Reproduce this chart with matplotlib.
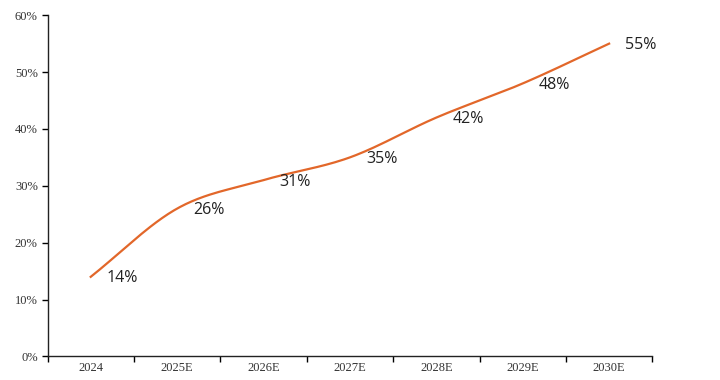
import matplotlib.pyplot as plt
import numpy as np

years = ['2024', '2025E', '2026E', '2027E', '2028E', '2029E', '2030E']
share = [14, 26, 31, 35, 42, 48, 55]
point_labels = ['14%', '26%', '31%', '35%', '42%', '48%', '55%']


def smooth_curve(xs, ys, steps=30):
    # Catmull-Rom spline through the points, like Excel's smoothed line
    xs = np.asarray(xs, float)
    ys = np.asarray(ys, float)
    px = np.concatenate([[2 * xs[0] - xs[1]], xs, [2 * xs[-1] - xs[-2]]])
    py = np.concatenate([[2 * ys[0] - ys[1]], ys, [2 * ys[-1] - ys[-2]]])
    out_x, out_y = [], []
    t = np.linspace(0, 1, steps)
    for i in range(1, len(px) - 2):
        for p, out in ((px, out_x), (py, out_y)):
            p0, p1, p2, p3 = p[i - 1], p[i], p[i + 1], p[i + 2]
            out.extend(0.5 * (2 * p1 + (-p0 + p2) * t
                              + (2 * p0 - 5 * p1 + 4 * p2 - p3) * t ** 2
                              + (-p0 + 3 * p1 - 3 * p2 + p3) * t ** 3))
    return np.array(out_x), np.array(out_y)


fig = plt.figure(figsize=(7.2, 3.8), dpi=100)
ax = fig.add_axes([0.066, 0.062, 0.84, 0.898])

x = np.arange(len(years))
sx, sy = smooth_curve(x, share)
ax.plot(sx, sy, color='#E2672A', linewidth=1.6)

for xi, yi, lab in zip(x, share, point_labels):
    ax.annotate(lab, (xi, yi), xytext=(23, -1), textcoords='offset points',
                ha='center', va='center', fontsize=11.5, family='Open Sans',
                color='#222222')

ax.set_xlim(-0.5, len(years) - 0.5)
ax.set_ylim(0, 60)
ax.set_yticks(range(0, 61, 10))
ax.set_yticklabels([f'{v}%' for v in range(0, 61, 10)],
                   family='Liberation Serif', fontsize=9, color='#333333')
ax.set_xticks(x)
ax.set_xticklabels(years, family='Liberation Serif', fontsize=9, color='#333333')
ax.set_xticks(np.arange(-0.5, len(years)), minor=True)
ax.tick_params(axis='x', which='major', length=0, pad=4)
ax.tick_params(axis='x', which='minor', length=4, direction='out', width=1)
ax.tick_params(axis='y', length=4, direction='out', width=1, pad=3)

for s in ('top', 'right'):
    ax.spines[s].set_visible(False)
for s in ('left', 'bottom'):
    ax.spines[s].set_color('#222222')
    ax.spines[s].set_linewidth(1)

fig.savefig('out.png', dpi=100)
